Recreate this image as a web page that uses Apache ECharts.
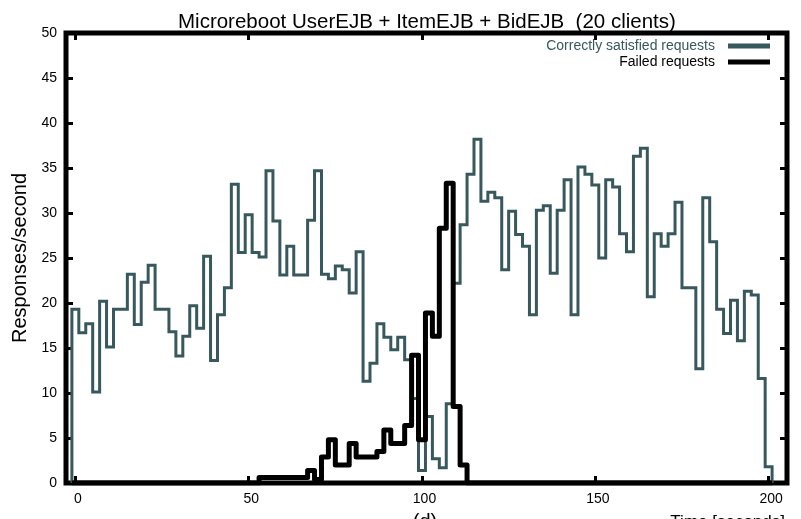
<!DOCTYPE html>
<html>
<head>
<meta charset="utf-8">
<script src="https://cdn.jsdelivr.net/npm/echarts@6/dist/echarts.min.js"></script>
<style>
  html, body { margin: 0; padding: 0; background: #ffffff; }
  #chart { width: 801px; height: 519px; }
</style>
</head>
<body>
<div id="chart"></div>
<script>
// Sample times (seconds), one sample every 2 s
const times = [
  0, 2, 4, 6, 8, 10, 12, 14, 16, 18, 20, 22, 24, 26, 28, 30, 32, 34, 36, 38,
  40, 42, 44, 46, 48, 50, 52, 54, 56, 58, 60, 62, 64, 66, 68, 70, 72, 74, 76, 78,
  80, 82, 84, 86, 88, 90, 92, 94, 96, 98, 100, 102, 104, 106, 108, 110, 112, 114, 116, 118,
  120, 122, 124, 126, 128, 130, 132, 134, 136, 138, 140, 142, 144, 146, 148, 150, 152, 154, 156, 158,
  160, 162, 164, 166, 168, 170, 172, 174, 176, 178, 180, 182, 184, 186, 188, 190, 192, 194, 196, 198,
  200
];

// Correctly satisfied requests per second
const satisfied = [
  19.3, 16.7, 17.7, 10.1, 20.2, 15.1, 19.3, 19.3, 23.2, 17.6, 22.3, 24.2, 19.3, 19.3, 16.8, 14.1, 16.3, 19.7, 17.2, 25.2,
  13.6, 18.7, 21.7, 33.2, 25.6, 29.8, 25.6, 25.1, 34.7, 29.1, 23.1, 26.3, 23.1, 23.1, 29.2, 34.7, 23.2, 22.7, 24.1, 23.7,
  21.1, 25.7, 11.3, 13.3, 17.7, 16.2, 14.8, 16.2, 13.7, 9.4, 1.4, 7.4, 2.7, 1.7, 8.8, 22.2, 28.7, 34.3, 38.2, 31.3,
  32.3, 31.7, 23.7, 30.2, 27.6, 26.3, 18.7, 30.3, 30.8, 23.3, 30.3, 33.7, 18.7, 35.1, 34.3, 33.1, 25.0, 33.7, 32.9, 27.7,
  25.7, 36.3, 37.2, 20.7, 27.7, 26.3, 27.7, 31.2, 21.7, 21.7, 12.7, 31.7, 26.8, 19.3, 16.6, 20.3, 15.8, 21.3, 20.9, 11.6,
  1.8
];

// Failed requests per second
const failed = [
  0, 0, 0, 0, 0, 0, 0, 0, 0, 0, 0, 0, 0, 0, 0, 0, 0, 0, 0, 0,
  0, 0, 0, 0, 0, 0, 0, 0.6, 0.6, 0.6, 0.6, 0.6, 0.6, 0.6, 1.4, 0.4, 2.9, 4.8, 2.0, 2.0,
  4.4, 2.9, 2.9, 2.9, 3.5, 5.9, 4.4, 4.4, 6.4, 14.2, 4.8, 18.9, 16.3, 28.3, 33.3, 8.5, 2.0, 0, 0, 0,
  0, 0, 0, 0, 0, 0, 0, 0, 0, 0, 0, 0, 0, 0, 0, 0, 0, 0, 0, 0,
  0, 0, 0, 0, 0, 0, 0, 0, 0, 0, 0, 0, 0, 0, 0, 0, 0, 0, 0, 0,
  0
];

const xTicks = [0, 50, 100, 150, 200];
const seriesNames = ['Correctly satisfied requests', 'Failed requests'];

const TEAL = '#37585c';
const FONT = '"Liberation Sans", Arial, sans-serif';

// Histogram-style steps: each sample holds its value over [t - h, t + h]
function histSteps(ts, vs) {
  const h = (ts[1] - ts[0]) / 2;
  const pts = [[ts[0] - h, 0]];
  ts.forEach((t, i) => pts.push([t - h, vs[i]]));
  pts.push([ts[ts.length - 1] + h, 0]);
  return pts;
}

// Short inward tick marks on every side of the frame
function ticks(extra) {
  return Object.assign({ show: true, inside: true, length: 7, lineStyle: { color: '#000', width: 3 } }, extra || {});
}

// Axes stay on the frame edges instead of snapping to zero
const edgeLine = { show: false, onZero: false };

const chart = echarts.init(document.getElementById('chart'), null, { renderer: 'canvas' });

chart.setOption({
  animation: false,
  backgroundColor: '#ffffff',
  title: {
    text: 'Microreboot UserEJB + ItemEJB + BidEJB  (20 clients)',
    left: 173,
    top: 7,
    textStyle: { fontFamily: FONT, fontSize: 20.5, fontWeight: 'normal', color: '#000' }
  },
  legend: {
    orient: 'vertical',
    align: 'right',
    right: 31,
    top: 38,
    padding: 0,
    itemGap: 0,
    itemWidth: 42,
    itemHeight: 5,
    icon: 'rect',
    selectedMode: false,
    data: [
      { name: seriesNames[0], textStyle: { color: TEAL } },
      { name: seriesNames[1], textStyle: { color: '#000' } }
    ],
    textStyle: { fontFamily: FONT, fontSize: 14, lineHeight: 14, padding: [2, 8, 0, 0] }
  },
  grid: {
    left: 66, right: 14, top: 33, bottom: 36,
    outerBoundsMode: 'none',
    containLabel: false,
    show: true, borderColor: '#000', borderWidth: 5, backgroundColor: 'transparent'
  },
  xAxis: [
    {
      type: 'value', min: -2.7, max: 205.3, position: 'bottom',
      axisLine: edgeLine,
      axisTick: ticks({ customValues: xTicks }),
      axisLabel: { customValues: xTicks, margin: 9, padding: [0, 0, 0, 5], fontFamily: FONT, fontSize: 14, color: '#000' },
      splitLine: { show: false },
      name: 'Time [seconds]',
      nameLocation: 'end',
      nameGap: -2,
      nameTextStyle: { fontFamily: FONT, fontSize: 17, color: '#000', align: 'right', verticalAlign: 'top', padding: [31, 0, 0, 0] }
    },
    {
      type: 'value', min: -2.7, max: 205.3, position: 'top',
      axisLine: edgeLine,
      axisTick: ticks({ customValues: xTicks }),
      axisLabel: { show: false },
      splitLine: { show: false }
    }
  ],
  yAxis: [
    {
      type: 'value', min: 0, max: 50, interval: 5, position: 'left',
      axisLine: edgeLine,
      axisTick: ticks(),
      axisLabel: { margin: 9, fontFamily: FONT, fontSize: 14, color: '#000' },
      splitLine: { show: false },
      name: 'Responses/second',
      nameLocation: 'middle',
      nameGap: 31,
      nameTextStyle: { fontFamily: FONT, fontSize: 20, color: '#000' }
    },
    {
      type: 'value', min: 0, max: 50, interval: 5, position: 'right',
      axisLine: edgeLine,
      axisTick: ticks(),
      axisLabel: { show: false },
      splitLine: { show: false }
    }
  ],
  graphic: [
    {
      type: 'text',
      style: { text: '(d)', x: 425, y: 512, align: 'center', verticalAlign: 'top', font: '20px ' + FONT, fill: '#000' }
    }
  ],
  series: [
    {
      name: seriesNames[0],
      type: 'line',
      step: 'end',
      symbol: 'none',
      data: histSteps(times, satisfied),
      itemStyle: { color: TEAL },
      lineStyle: { color: TEAL, width: 3, join: 'miter' },
      z: 3
    },
    {
      name: seriesNames[1],
      type: 'line',
      step: 'end',
      symbol: 'none',
      data: histSteps(times, failed),
      itemStyle: { color: '#000' },
      lineStyle: { color: '#000', width: 5, join: 'round' },
      z: 4
    }
  ]
});
</script>
</body>
</html>
